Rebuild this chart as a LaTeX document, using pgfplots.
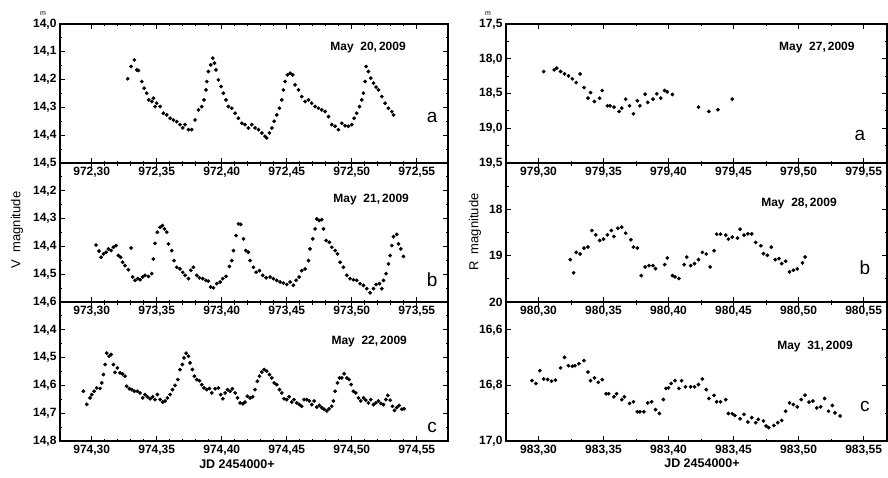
\documentclass[border=0pt]{standalone}
\usepackage{fontspec}
\setmainfont{Liberation Sans}
\usepackage{pgfplots}
\pgfplotsset{compat=1.18}

\pgfplotsset{
  panel/.style={
    scale only axis, anchor=south west, height=139pt,
    y dir=reverse, clip=false,
    axis line style={line width=1.2pt},
    tick align=inside,
    major tick length=5pt, minor tick length=2.5pt,
    every tick/.style={black, line width=0.9pt},
    tick label style={font=\bfseries\fontsize{12}{12}\selectfont},
    xticklabel style={yshift=-3pt, inner sep=1pt},
  },
  lpanel/.style={panel, width=388pt, minor x tick num=4},
  % right column: x is the fraction of the JD day shown in the tick labels
  rpanel/.style={panel, width=381pt, xmin=0.275, xmax=0.568,
    xtick={0.30,0.35,0.40,0.45,0.50,0.55},
    minor xtick={0.325,0.375,0.425,0.475,0.525}},
  dots/.style={only marks, mark=*, mark size=1.7pt, black},
}
\tikzset{
  date/.style={font=\bfseries\fontsize{12}{12}\selectfont},
  letter/.style={font=\fontsize{19}{19}\selectfont},
}

\begin{document}
\begin{tikzpicture}[x=1pt,y=1pt]

% ---------- left column (V) ----------
\begin{axis}[lpanel, at={(60pt,314pt)},
  xmin=972.2756, xmax=972.574, ymin=14.0, ymax=14.5,
  xtick={972.30,972.35,972.40,972.45,972.50,972.55},
  xticklabels={{972,30},{972,35},{972,40},{972,45},{972,50},{972,55}},
  ytick={14.0,14.1,14.2,14.3,14.4,14.5},
  yticklabels={{14,0},{14,1},{14,2},{14,3},{14,4},{14,5}},
  minor ytick={14.05,14.15,14.25,14.35,14.45}]
\addplot[dots] coordinates {(972.3277,14.197)(972.3303,14.153)(972.3328,14.129)(972.3346,14.165)(972.3359,14.167)(972.3385,14.207)(972.3403,14.231)(972.3423,14.249)(972.3438,14.273)(972.3462,14.279)(972.3474,14.267)(972.3487,14.297)(972.3500,14.285)(972.3526,14.297)(972.3551,14.321)(972.3577,14.327)(972.3603,14.339)(972.3628,14.345)(972.3654,14.351)(972.3679,14.362)(972.3700,14.374)(972.3718,14.362)(972.3744,14.380)(972.3769,14.380)(972.3795,14.345)(972.3821,14.309)(972.3846,14.297)(972.3864,14.273)(972.3879,14.237)(972.3885,14.207)(972.3897,14.171)(972.3915,14.147)(972.3931,14.123)(972.3944,14.141)(972.3956,14.165)(972.3974,14.201)(972.3995,14.225)(972.4013,14.249)(972.4033,14.273)(972.4051,14.297)(972.4077,14.303)(972.4103,14.321)(972.4128,14.339)(972.4154,14.357)(972.4179,14.362)(972.4205,14.374)(972.4231,14.362)(972.4256,14.374)(972.4282,14.380)(972.4308,14.392)(972.4333,14.404)(972.4346,14.410)(972.4367,14.392)(972.4385,14.374)(972.4403,14.350)(972.4423,14.327)(972.4444,14.303)(972.4462,14.273)(972.4474,14.237)(972.4487,14.207)(972.4505,14.183)(972.4526,14.177)(972.4546,14.183)(972.4564,14.219)(972.4590,14.237)(972.4615,14.261)(972.4641,14.279)(972.4667,14.273)(972.4692,14.285)(972.4718,14.297)(972.4744,14.303)(972.4769,14.309)(972.4795,14.315)(972.4821,14.333)(972.4846,14.362)(972.4872,14.368)(972.4897,14.380)(972.4923,14.357)(972.4949,14.366)(972.4974,14.368)(972.5000,14.362)(972.5018,14.339)(972.5038,14.321)(972.5059,14.297)(972.5077,14.273)(972.5090,14.249)(972.5103,14.207)(972.5110,14.153)(972.5128,14.171)(972.5146,14.195)(972.5167,14.213)(972.5187,14.227)(972.5205,14.237)(972.5231,14.261)(972.5256,14.285)(972.5282,14.303)(972.5308,14.315)(972.5321,14.327)};
\node[date] at (axis description cs:0.794,0.827) {May\ \ 20,\,2009};
\node[letter] at (axis description cs:0.959,0.33) {a};
\end{axis}

\begin{axis}[lpanel, at={(60pt,175pt)},
  xmin=973.2756, xmax=973.574, ymin=14.1, ymax=14.6,
  xtick={973.30,973.35,973.40,973.45,973.50,973.55},
  xticklabels={{973,30},{973,35},{973,40},{973,45},{973,50},{973,55}},
  ytick={14.1,14.2,14.3,14.4,14.5,14.6},
  yticklabels={{},{14,2},{14,3},{14,4},{14,5},{14,6}},
  minor ytick={14.15,14.25,14.35,14.45,14.55}]
\addplot[dots] coordinates {(973.3033,14.395)(973.3056,14.417)(973.3072,14.439)(973.3090,14.427)(973.3110,14.421)(973.3128,14.409)(973.3149,14.415)(973.3167,14.403)(973.3187,14.397)(973.3205,14.433)(973.3223,14.439)(973.3238,14.457)(973.3256,14.469)(973.3282,14.484)(973.3303,14.406)(973.3315,14.510)(973.3333,14.522)(973.3354,14.516)(973.3372,14.520)(973.3392,14.510)(973.3410,14.504)(973.3436,14.508)(973.3462,14.498)(973.3474,14.445)(973.3487,14.389)(973.3505,14.349)(973.3526,14.331)(973.3544,14.325)(973.3559,14.337)(973.3577,14.349)(973.3590,14.391)(973.3615,14.415)(973.3633,14.451)(973.3654,14.475)(973.3679,14.481)(973.3700,14.493)(973.3718,14.504)(973.3744,14.516)(973.3762,14.486)(973.3782,14.475)(973.3808,14.504)(973.3828,14.513)(973.3854,14.516)(973.3879,14.522)(973.3897,14.525)(973.3915,14.546)(973.3936,14.549)(973.3962,14.534)(973.3987,14.528)(973.4008,14.516)(973.4033,14.508)(973.4059,14.472)(973.4077,14.451)(973.4090,14.415)(973.4110,14.361)(973.4128,14.319)(973.4146,14.321)(973.4167,14.373)(973.4185,14.415)(973.4205,14.421)(973.4218,14.451)(973.4244,14.475)(973.4264,14.493)(973.4290,14.487)(973.4315,14.504)(973.4341,14.513)(973.4372,14.510)(973.4397,14.516)(973.4423,14.522)(973.4449,14.528)(973.4474,14.532)(973.4500,14.537)(973.4526,14.528)(973.4551,14.540)(973.4572,14.522)(973.4595,14.510)(973.4615,14.487)(973.4641,14.481)(973.4667,14.451)(973.4679,14.409)(973.4700,14.373)(973.4718,14.337)(973.4731,14.301)(973.4749,14.307)(973.4769,14.304)(973.4782,14.337)(973.4803,14.379)(973.4828,14.385)(973.4846,14.403)(973.4872,14.415)(973.4890,14.427)(973.4910,14.457)(973.4936,14.475)(973.4962,14.504)(973.4987,14.516)(973.5013,14.520)(973.5038,14.522)(973.5064,14.534)(973.5090,14.540)(973.5115,14.552)(973.5141,14.567)(973.5167,14.552)(973.5187,14.537)(973.5213,14.534)(973.5231,14.552)(973.5244,14.522)(973.5264,14.498)(973.5282,14.463)(973.5295,14.433)(973.5308,14.397)(973.5321,14.365)(973.5346,14.357)(973.5359,14.391)(973.5377,14.409)(973.5397,14.436)};
\node[date] at (axis description cs:0.802,0.734) {May\ \ 21,\,2009};
\node[letter] at (axis description cs:0.959,0.16) {b};
\end{axis}

\begin{axis}[lpanel, at={(60pt,36pt)},
  xmin=974.2756, xmax=974.574, ymin=14.3, ymax=14.8,
  xtick={974.30,974.35,974.40,974.45,974.50,974.55},
  xticklabels={{974,30},{974,35},{974,40},{974,45},{974,50},{974,55}},
  ytick={14.3,14.4,14.5,14.6,14.7,14.8},
  yticklabels={{},{14,4},{14,5},{14,6},{14,7},{14,8}},
  minor ytick={14.35,14.45,14.55,14.65,14.75}]
\addplot[dots] coordinates {(974.2936,14.621)(974.2962,14.668)(974.2987,14.645)(974.3000,14.633)(974.3018,14.621)(974.3038,14.609)(974.3064,14.611)(974.3077,14.591)(974.3090,14.561)(974.3103,14.525)(974.3115,14.484)(974.3133,14.495)(974.3149,14.489)(974.3167,14.525)(974.3179,14.553)(974.3197,14.537)(974.3218,14.555)(974.3238,14.559)(974.3256,14.567)(974.3269,14.603)(974.3290,14.612)(974.3308,14.615)(974.3328,14.621)(974.3351,14.621)(974.3372,14.627)(974.3392,14.645)(974.3410,14.633)(974.3428,14.641)(974.3449,14.648)(974.3469,14.641)(974.3487,14.651)(974.3505,14.633)(974.3526,14.651)(974.3546,14.660)(974.3564,14.656)(974.3582,14.645)(974.3603,14.633)(974.3621,14.615)(974.3641,14.600)(974.3662,14.579)(974.3679,14.543)(974.3697,14.525)(974.3710,14.501)(974.3726,14.484)(974.3744,14.495)(974.3756,14.519)(974.3774,14.543)(974.3790,14.567)(974.3808,14.579)(974.3828,14.583)(974.3846,14.597)(974.3864,14.609)(974.3885,14.615)(974.3905,14.611)(974.3923,14.627)(974.3949,14.612)(974.3974,14.609)(974.3992,14.633)(974.4008,14.648)(974.4026,14.627)(974.4044,14.615)(974.4064,14.621)(974.4082,14.612)(974.4103,14.627)(974.4121,14.645)(974.4141,14.663)(974.4162,14.666)(974.4179,14.660)(974.4197,14.639)(974.4218,14.645)(974.4238,14.641)(974.4256,14.615)(974.4274,14.585)(974.4290,14.567)(974.4308,14.552)(974.4326,14.543)(974.4346,14.549)(974.4367,14.561)(974.4385,14.573)(974.4403,14.591)(974.4423,14.597)(974.4444,14.615)(974.4462,14.627)(974.4479,14.648)(974.4500,14.651)(974.4518,14.641)(974.4538,14.660)(974.4556,14.651)(974.4577,14.663)(974.4597,14.669)(974.4615,14.675)(974.4633,14.651)(974.4654,14.651)(974.4674,14.656)(974.4692,14.669)(974.4710,14.656)(974.4731,14.678)(974.4751,14.672)(974.4769,14.680)(974.4787,14.686)(974.4808,14.692)(974.4826,14.684)(974.4846,14.675)(974.4859,14.656)(974.4872,14.621)(974.4890,14.591)(974.4905,14.573)(974.4923,14.573)(974.4941,14.558)(974.4962,14.573)(974.4979,14.579)(974.4995,14.597)(974.5013,14.621)(974.5031,14.627)(974.5051,14.645)(974.5069,14.656)(974.5090,14.645)(974.5108,14.653)(974.5128,14.663)(974.5146,14.651)(974.5167,14.669)(974.5185,14.663)(974.5205,14.656)(974.5223,14.665)(974.5244,14.669)(974.5262,14.651)(974.5277,14.636)(974.5295,14.653)(974.5313,14.675)(974.5328,14.690)(974.5346,14.680)(974.5364,14.672)(974.5385,14.686)(974.5403,14.684)};
\node[date] at (axis description cs:0.797,0.712) {May\ \ 22,\,2009};
\node[letter] at (axis description cs:0.959,0.10) {c};
\end{axis}

% ---------- right column (R), x = JD - 2454979 etc. ----------
\begin{axis}[rpanel, at={(506pt,314pt)},
  ymin=17.5, ymax=19.5,
  xticklabels={{979,30},{979,35},{979,40},{979,45},{979,50},{979,55}},
  ytick={17.5,18.0,18.5,19.0,19.5},
  yticklabels={{17,5},{18,0},{18,5},{19,0},{19,5}},
  minor ytick={17.75,18.25,18.75,19.25}]
\addplot[dots] coordinates {(0.304,18.184)(0.312,18.160)(0.314,18.136)(0.317,18.184)(0.320,18.218)(0.323,18.246)(0.326,18.289)(0.329,18.342)(0.332,18.218)(0.335,18.414)(0.338,18.567)(0.340,18.486)(0.343,18.615)(0.347,18.567)(0.349,18.457)(0.353,18.677)(0.355,18.677)(0.358,18.696)(0.362,18.758)(0.364,18.711)(0.367,18.581)(0.370,18.677)(0.373,18.792)(0.376,18.605)(0.378,18.677)(0.382,18.510)(0.384,18.629)(0.388,18.581)(0.391,18.505)(0.394,18.567)(0.397,18.457)(0.399,18.476)(0.403,18.514)(0.423,18.696)(0.431,18.758)(0.438,18.734)(0.449,18.581)};
\node[date] at (axis description cs:0.816,0.827) {May\ \ 27,\,2009};
\node[letter] at (axis description cs:0.929,0.20) {a};
\end{axis}

\begin{axis}[rpanel, at={(506pt,175pt)},
  ymin=17, ymax=20,
  xticklabels={{980,30},{980,35},{980,40},{980,45},{980,50},{980,55}},
  ytick={17,18,19,20},
  yticklabels={{},{18},{19},{20}},
  minor ytick={17.5,18.5,19.5}]
\addplot[dots] coordinates {(0.3244,19.086)(0.327,19.371)(0.329,18.929)(0.332,18.964)(0.335,18.836)(0.338,18.814)(0.341,18.457)(0.344,18.550)(0.347,18.671)(0.350,18.643)(0.353,18.550)(0.356,18.457)(0.358,18.586)(0.361,18.407)(0.364,18.386)(0.367,18.514)(0.371,18.657)(0.373,18.814)(0.376,18.836)(0.379,19.429)(0.382,19.243)(0.385,19.214)(0.388,19.214)(0.390,19.279)(0.397,19.193)(0.399,19.050)(0.403,19.429)(0.405,19.457)(0.408,19.493)(0.412,19.193)(0.414,19.029)(0.417,19.214)(0.420,19.171)(0.423,19.086)(0.426,18.929)(0.429,18.964)(0.432,19.243)(0.435,18.893)(0.437,18.536)(0.440,18.536)(0.444,18.557)(0.446,18.643)(0.449,18.600)(0.453,18.621)(0.455,18.429)(0.458,18.557)(0.461,18.529)(0.464,18.529)(0.467,18.714)(0.471,18.786)(0.473,18.957)(0.476,18.993)(0.479,18.814)(0.482,19.086)(0.485,19.064)(0.487,19.171)(0.490,19.121)(0.493,19.350)(0.496,19.314)(0.499,19.286)(0.503,19.157)(0.505,19.029)};
\node[date] at (axis description cs:0.769,0.705) {May\ \ 28,\,2009};
\node[letter] at (axis description cs:0.942,0.25) {b};
\end{axis}

\begin{axis}[rpanel, at={(506pt,36pt)},
  ymin=16.5, ymax=17.0,
  xticklabels={{983,30},{983,35},{983,40},{983,45},{983,50},{983,55}},
  ytick={16.6,16.8,17.0},
  yticklabels={{16,6},{16,8},{17,0}},
  minor ytick={16.5,16.7,16.9}]
\addplot[dots] coordinates {(0.295,16.783)(0.298,16.793)(0.301,16.747)(0.304,16.777)(0.307,16.779)(0.310,16.785)(0.313,16.781)(0.317,16.737)(0.320,16.699)(0.323,16.729)(0.326,16.731)(0.328,16.729)(0.331,16.722)(0.335,16.711)(0.338,16.752)(0.340,16.783)(0.343,16.773)(0.346,16.789)(0.349,16.779)(0.352,16.830)(0.354,16.830)(0.358,16.841)(0.360,16.830)(0.364,16.851)(0.366,16.841)(0.370,16.865)(0.373,16.859)(0.376,16.895)(0.378,16.895)(0.381,16.895)(0.384,16.863)(0.387,16.859)(0.390,16.887)(0.393,16.901)(0.396,16.851)(0.398,16.811)(0.400,16.809)(0.402,16.793)(0.405,16.783)(0.408,16.811)(0.410,16.783)(0.413,16.805)(0.417,16.805)(0.420,16.805)(0.423,16.797)(0.426,16.777)(0.429,16.815)(0.431,16.847)(0.435,16.836)(0.437,16.859)(0.440,16.859)(0.444,16.851)(0.446,16.901)(0.449,16.902)(0.451,16.908)(0.455,16.920)(0.458,16.904)(0.461,16.932)(0.464,16.916)(0.467,16.934)(0.469,16.922)(0.473,16.928)(0.475,16.946)(0.477,16.952)(0.481,16.944)(0.484,16.934)(0.487,16.926)(0.490,16.893)(0.493,16.863)(0.496,16.869)(0.499,16.877)(0.502,16.851)(0.505,16.835)(0.508,16.860)(0.511,16.856)(0.514,16.881)(0.517,16.877)(0.520,16.847)(0.523,16.893)(0.526,16.872)(0.528,16.899)(0.532,16.910)};
\node[date] at (axis description cs:0.811,0.683) {May\ \ 31,\,2009};
\node[letter] at (axis description cs:0.942,0.245) {c};
\end{axis}

% ---------- labels ----------
\node[rotate=90, font=\fontsize{13}{13}\selectfont] at (17,247) {V\ \ magnitude};
\node[rotate=90, font=\fontsize{13}{13}\selectfont] at (475,245) {R\ \ magnitude};
\node[inner sep=0pt, font=\bfseries\fontsize{12.5}{12.5}\selectfont] at (237,13) {JD 2454000+};
\node[inner sep=0pt, font=\bfseries\fontsize{12.5}{12.5}\selectfont] at (702,13.5) {JD 2454000+};
\node[font=\fontsize{7}{7}\selectfont] at (43,463) {m};
\node[font=\fontsize{7}{7}\selectfont] at (488,463) {m};

\pgfresetboundingbox
\useasboundingbox (0,0) rectangle (888,477);
\end{tikzpicture}
\end{document}
